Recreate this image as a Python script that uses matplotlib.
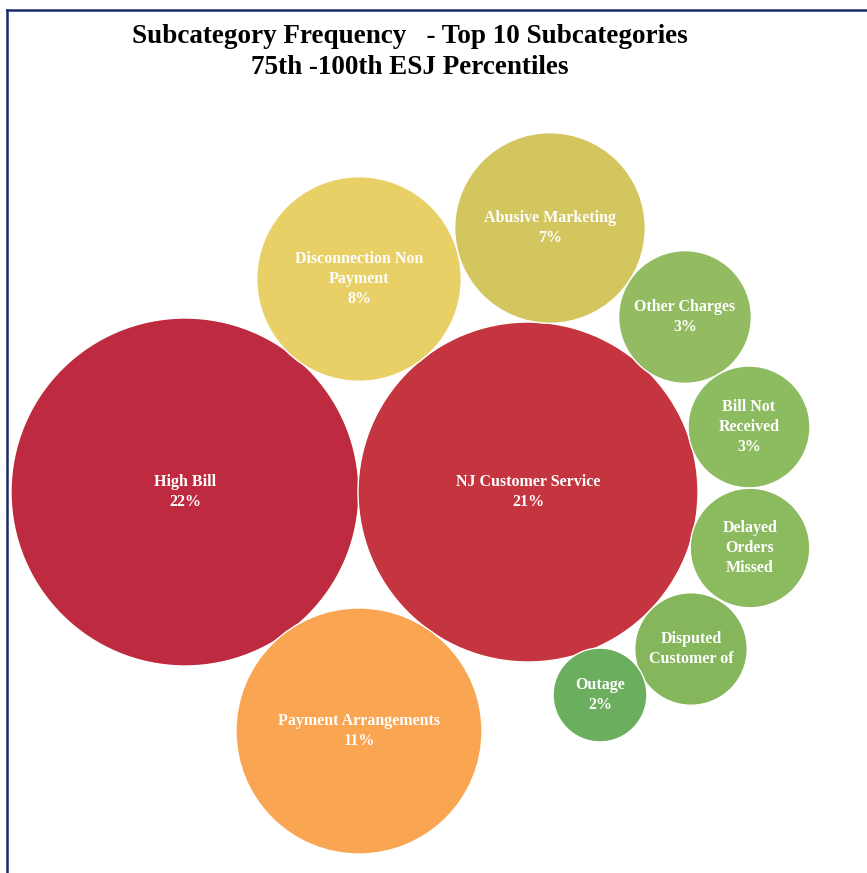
import matplotlib.pyplot as plt
from matplotlib.patches import Circle
from matplotlib.lines import Line2D
import numpy as np

# --- data ---
names = ["High Bill", "NJ Customer Service", "Payment Arrangements",
         "Disconnection Non\nPayment", "Abusive Marketing", "Other Charges",
         "Bill Not\nReceived", "Delayed\nOrders\nMissed", "Disputed\nCustomer of",
         "Outage"]
pct = [22, 21, 11, 7.6, 6.6, 3.2, 2.7, 2.6, 2.3, 1.6]
show_pct = [True, True, True, True, True, True, True, False, False, True]
colors = ["#BE2A3F", "#C5353F", "#F9A552", "#E8CF66", "#D3C65E",
          "#92BB62", "#8DBB60", "#8BBA5F", "#85B65C", "#6AAE5E"]

# bubble layout (pixel centres of the packed layout)
cx = [185, 528, 359, 359, 550, 685, 749, 750, 691, 600]
cy = [492, 492, 731, 279, 228, 317, 427, 548, 649, 695]
scale = 174 / np.sqrt(22)

W, H = 867, 873
fig = plt.figure(figsize=(W / 100, H / 100), dpi=100)
ax = fig.add_axes([0, 0, 1, 1])
ax.set_xlim(0, W)
ax.set_ylim(H, 0)
ax.set_aspect("equal")
ax.axis("off")

for i in range(len(names)):
    r = scale * np.sqrt(pct[i])
    ax.add_patch(Circle((cx[i], cy[i]), r, facecolor=colors[i],
                        edgecolor="white", linewidth=1))
    txt = names[i]
    if show_pct[i]:
        txt += "\n%d%%" % round(pct[i])
    ax.text(cx[i], cy[i], txt, ha="center", va="center", color="white",
            fontsize=11.5, fontweight="bold", family="Liberation Serif",
            linespacing=1.3)

ax.text(410, 52, "Subcategory Frequency   - Top 10 Subcategories\n75th -100th ESJ Percentiles",
        ha="center", va="center", fontsize=19.5, fontweight="bold",
        family="Liberation Serif", color="black", linespacing=1.28)

# frame
navy = "#1B2A6B"
fig.add_artist(Line2D([7 / W, 7 / W], [0, 1 - 10 / H], color=navy, lw=1.8,
                      transform=fig.transFigure))
fig.add_artist(Line2D([7 / W, 1], [1 - 10 / H, 1 - 10 / H], color=navy, lw=1.8,
                      transform=fig.transFigure))

fig.savefig("out.png", dpi=100, facecolor="white")
